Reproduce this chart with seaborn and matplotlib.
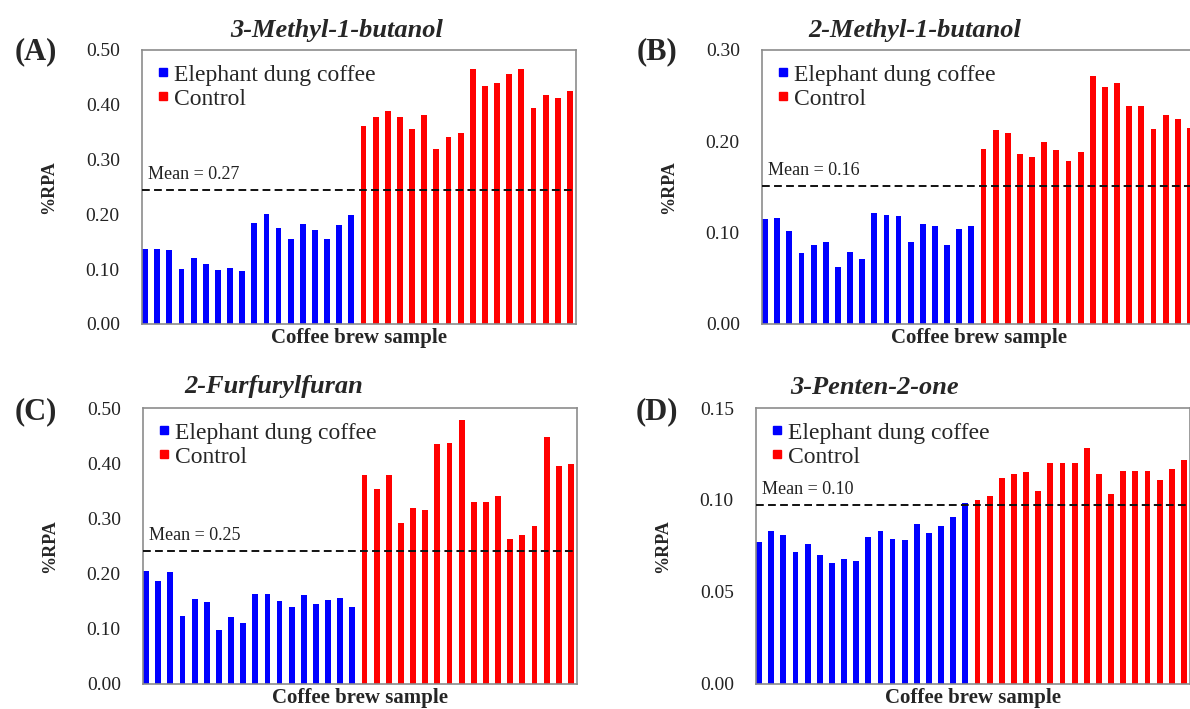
"""
Elephant dung coffee vs control: %RPA of four volatiles per coffee brew sample.
"""

import numpy as np
import pandas as pd
import matplotlib
matplotlib.use("Agg")
import matplotlib.pyplot as plt
import matplotlib.transforms as mtransforms
from matplotlib.lines import Line2D
import seaborn as sns


GROUPS = ["Elephant dung coffee", "Control"]
COLORS = {"Elephant dung coffee": "#0000ff", "Control": "#ff0000"}

# 18 elephant dung coffee brews followed by 18 control brews
methylbutanol_3_edc = [0.136, 0.137, 0.135, 0.101, 0.121, 0.109, 0.099, 0.102, 0.096,
                       0.184, 0.201, 0.176, 0.155, 0.183, 0.172, 0.155, 0.180, 0.198]
methylbutanol_3_ctl = [0.361, 0.377, 0.389, 0.378, 0.356, 0.382, 0.319, 0.342, 0.348,
                       0.465, 0.434, 0.440, 0.456, 0.466, 0.394, 0.418, 0.412, 0.425]

methylbutanol_2_edc = [0.115, 0.116, 0.102, 0.078, 0.087, 0.090, 0.062, 0.079, 0.071,
                       0.122, 0.119, 0.118, 0.090, 0.110, 0.107, 0.086, 0.104, 0.107]
methylbutanol_2_ctl = [0.192, 0.212, 0.209, 0.186, 0.183, 0.199, 0.191, 0.179, 0.188,
                       0.272, 0.259, 0.264, 0.239, 0.239, 0.214, 0.229, 0.224, 0.215]

furfurylfuran_edc = [0.204, 0.186, 0.202, 0.123, 0.154, 0.149, 0.098, 0.122, 0.110,
                     0.163, 0.163, 0.151, 0.140, 0.161, 0.145, 0.152, 0.155, 0.140]
furfurylfuran_ctl = [0.378, 0.354, 0.378, 0.291, 0.318, 0.315, 0.435, 0.437, 0.479,
                     0.329, 0.329, 0.341, 0.263, 0.270, 0.287, 0.447, 0.395, 0.399]

pentenone_edc = [0.077, 0.083, 0.081, 0.072, 0.076, 0.070, 0.066, 0.068, 0.067,
                 0.080, 0.083, 0.079, 0.078, 0.087, 0.082, 0.086, 0.091, 0.0985]
pentenone_ctl = [0.100, 0.102, 0.112, 0.114, 0.115, 0.105, 0.120, 0.120, 0.120,
                 0.128, 0.114, 0.103, 0.116, 0.116, 0.116, 0.111, 0.117, 0.122]

panel_letters = ["(A)", "(B)", "(C)", "(D)"]
compounds = ["3-Methyl-1-butanol", "2-Methyl-1-butanol", "2-Furfurylfuran", "3-Penten-2-one"]
edc_values = [methylbutanol_3_edc, methylbutanol_2_edc, furfurylfuran_edc, pentenone_edc]
ctl_values = [methylbutanol_3_ctl, methylbutanol_2_ctl, furfurylfuran_ctl, pentenone_ctl]
# dashed line height as drawn, and the label printed next to it
mean_lines = [0.245, 0.151, 0.241, 0.0975]
mean_labels = ["Mean = 0.27", "Mean = 0.16", "Mean = 0.25", "Mean = 0.10"]
y_ticks = [
    [0.0, 0.1, 0.2, 0.3, 0.4, 0.5],
    [0.0, 0.1, 0.2, 0.3],
    [0.0, 0.1, 0.2, 0.3, 0.4, 0.5],
    [0.0, 0.05, 0.10, 0.15],
]

W, H = 1190, 709
# axes boxes in pixels: left, top, width, height
boxes = [(142, 50, 434, 274), (762, 50, 434, 274),
         (143, 408, 434, 276), (756, 408, 434, 276)]
letter_xy = [(36, 52), (657, 52), (36, 412), (657, 412)]
title_xy = [(337, 30), (915, 30), (274, 386), (875, 388)]

SERIF = ["Liberation Serif", "DejaVu Serif"]


def make_frame(edc, ctl) -> pd.DataFrame:
    n_edc, n_ctl = len(edc), len(ctl)
    return pd.DataFrame({
        "sample": np.arange(1, n_edc + n_ctl + 1),
        "rpa": list(edc) + list(ctl),
        "group": [GROUPS[0]] * n_edc + [GROUPS[1]] * n_ctl,
    })


def draw_panel(fig, i) -> None:
    left, top, w, h = boxes[i]
    ax = fig.add_axes([left / W, 1 - (top + h) / H, w / W, h / H])
    df = make_frame(edc_values[i], ctl_values[i])

    sns.barplot(
        data=df, x="sample", y="rpa", hue="group", hue_order=GROUPS,
        palette=COLORS, dodge=False, width=0.48, saturation=1,
        legend=False, ax=ax, edgecolor="none",
    )

    ax.set_xlim(-0.25, len(df) - 0.5)
    ax.set_ylim(0, y_ticks[i][-1])
    ax.set_xticks([])
    ax.set_yticks(y_ticks[i])
    ax.set_yticklabels([f"{t:.2f}" for t in y_ticks[i]], fontsize=14, family=SERIF)
    ax.tick_params(axis="y", length=0, pad=16, colors="#222222")

    for s in ax.spines.values():
        s.set_visible(True)
        s.set_color("#8c8c8c")
        s.set_linewidth(1.2)

    ax.set_xlabel("Coffee brew sample", fontsize=15, fontweight="bold",
                  family=SERIF, labelpad=3)
    ax.set_ylabel("%RPA", fontsize=13, fontweight="bold", family=SERIF)
    ax.yaxis.set_label_coords(-0.195, 0.5)

    ax.axhline(mean_lines[i], color="#111111", lw=1.4, ls=(0, (4, 2.2)), zorder=5)
    trans = mtransforms.blended_transform_factory(ax.transAxes, ax.transData)
    ax.annotate(mean_labels[i], xy=(0, mean_lines[i]), xycoords=trans,
                xytext=(4, 5), textcoords="offset points", ha="left", va="bottom",
                fontsize=13, family=SERIF, color="#222222")

    handles = [Line2D([], [], marker="s", ls="", color=COLORS[g], markersize=6)
               for g in GROUPS]
    ax.legend(handles, GROUPS, loc="upper left", frameon=False,
              prop={"family": SERIF, "size": 17}, handlelength=0.6,
              handletextpad=0.15, labelspacing=0.1, borderaxespad=0.3,
              borderpad=0.3)

    lx, ly = letter_xy[i]
    fig.text(lx / W, 1 - ly / H, panel_letters[i], ha="center", va="center",
             fontsize=22, fontweight="bold", family=SERIF)
    tx, ty = title_xy[i]
    fig.text(tx / W, 1 - ty / H, compounds[i], ha="center", va="center",
             fontsize=19, fontweight="bold", style="italic", family=SERIF)


def main() -> None:
    sns.set_theme(style="white")
    plt.rcParams["font.family"] = SERIF

    fig = plt.figure(figsize=(W / 100, H / 100), dpi=100)
    for i in range(4):
        draw_panel(fig, i)

    fig.savefig("out.png", dpi=100)
    plt.close(fig)


if __name__ == "__main__":
    main()
